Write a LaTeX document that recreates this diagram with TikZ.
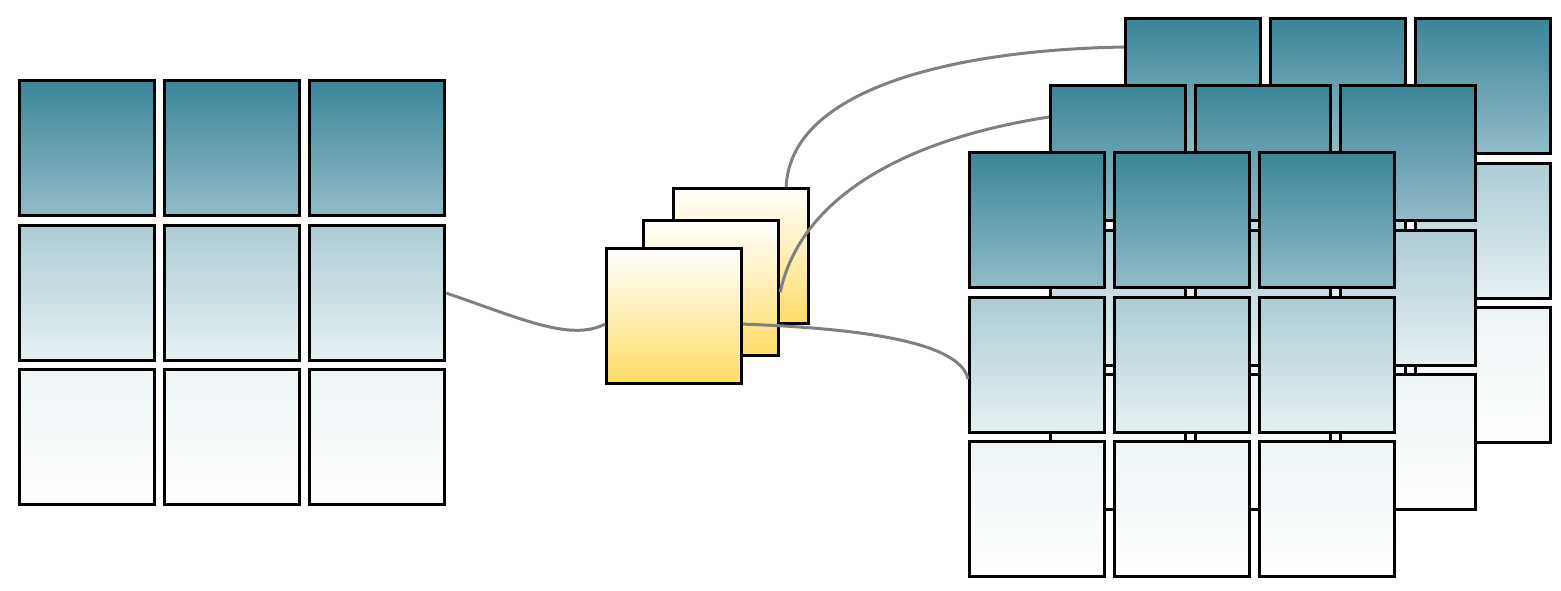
\documentclass[tikz,border=0pt]{standalone}
\usetikzlibrary{calc}
\definecolor{teal1}{RGB}{58,133,153}
\definecolor{yel}{RGB}{255,220,100}
\definecolor{wire}{RGB}{128,128,128}
\tikzset{
 cell/.style={draw=black,line width=3.2pt,minimum width=135pt,minimum height=135pt,inner sep=0pt,anchor=north west},
 r0/.style={cell,top color=teal1,bottom color=teal1!55!white},
 r1/.style={cell,top color=teal1!42!white,bottom color=teal1!12!white},
 r2/.style={cell,top color=teal1!9!white,bottom color=white},
 filt/.style={cell,top color=white,bottom color=yel},
 wirel/.style={draw=wire,line width=3pt}
}
\newcommand{\mygrid}[3]{%
 \foreach \c [count=\i] in {0,145,290}{
  \node[r0] (#3r1c\i) at (#1+\c,#2) {};
  \node[r1] (#3r2c\i) at (#1+\c,#2+145) {};
  \node[r2] (#3r3c\i) at (#1+\c,#2+289) {};
 }}
\begin{document}
\begin{tikzpicture}[x=1pt,y=-1pt]
\useasboundingbox (0,0) rectangle (1561,590);
\mygrid{18}{79}{L}
\node[filt] (F1) at (672,187) {};
\node[filt] (F2) at (642,219) {};
\node[filt] (F3) at (605,247) {};
\mygrid{1124}{17}{B}
\mygrid{1049}{84}{M}
\mygrid{968}{151}{G}
\draw[wirel] (Lr2c3.east) .. controls (520,318) and (570,342) .. ($(F3.west)+(0,8)$);
\draw[wirel] ($(F3.east)+(0,8)$) .. controls (850,328) and (960,340) .. ($(Gr2c1.west)+(0,14)$);
\draw[wirel] ($(F2.east)+(0,4)$) .. controls (800,200) and (900,140) .. ($(Mr1c1.north west)+(0,33)$);
\draw[wirel] ($(F1.north east)+(-24,0)$) .. controls (790,90) and (950,50) .. ($(Br1c1.north west)+(0,30)$);
\end{tikzpicture}
\end{document}
